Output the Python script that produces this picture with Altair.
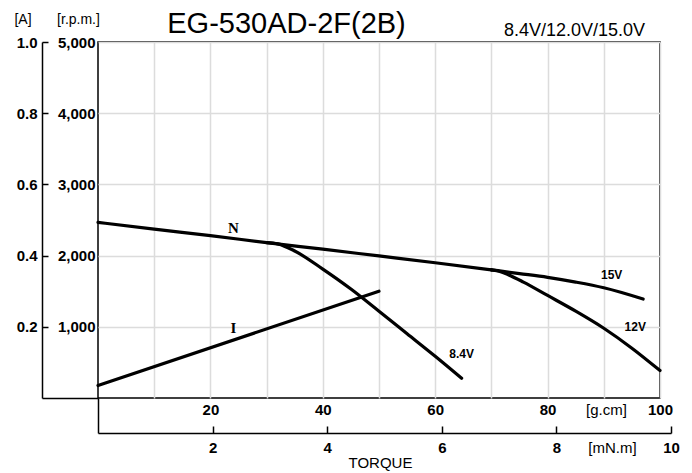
import altair as alt
import pandas as pd

# ---------------- data ----------------
# torque in g.cm, speed in r.p.m.
N_TORQUE = [0, 10, 20, 30, 40, 50, 60, 70]
N_RPM = [2467, 2372, 2280, 2183, 2090, 1995, 1900, 1800]

V84_TORQUE = [30, 32, 35, 40, 45, 50, 55, 60, 64.7]
V84_RPM = [2183, 2165, 2065, 1810, 1530, 1218, 902, 586, 277]

V12_TORQUE = [70, 71, 73, 75.7, 80, 85, 90, 95, 100]
V12_RPM = [1800, 1787, 1731, 1628, 1440, 1220, 980, 700, 385]

V15_TORQUE = [70, 75, 80, 85, 90, 97]
V15_RPM = [1800, 1748, 1695, 1628, 1548, 1390]

# current in A
I_TORQUE = [0, 50]
I_AMP = [0.035, 0.30]

SERIF_TEXT = ["N", "I"]
SERIF_TORQUE = [24.1, 24.1]
SERIF_RPM = [2383, 979]

VOLT_TEXT = ["8.4V", "15V", "12V"]
VOLT_TORQUE = [64.7, 91.4, 95.6]
VOLT_RPM = [618, 1728, 993]

GCM_TICKS = [10, 20, 30, 40, 50, 60, 70, 80, 90, 100]
RPM_TICKS = [1000, 2000, 3000, 4000, 5000]
AMP_TICKS = [0, 0.2, 0.4, 0.6, 0.8, 1.0]
MNM_TICKS = [0, 2, 4, 6, 8, 10]
GCM_PER_MNM = 10.197

# ---------------- tables ----------------
rows = []
for name, xs, ys in [("N", N_TORQUE, N_RPM), ("8.4V", V84_TORQUE, V84_RPM),
                     ("12V", V12_TORQUE, V12_RPM), ("15V", V15_TORQUE, V15_RPM)]:
    for x, y in zip(xs, ys):
        rows.append({"series": name, "torque": x, "rpm": y})
curves = pd.DataFrame(rows)
current = pd.DataFrame({"torque": I_TORQUE, "amp": I_AMP})
serif_df = pd.DataFrame({"text": SERIF_TEXT, "torque": SERIF_TORQUE, "rpm": SERIF_RPM})
volt_df = pd.DataFrame({"text": VOLT_TEXT, "torque": VOLT_TORQUE, "rpm": VOLT_RPM})

FONT = "Liberation Sans"
W, H = 562, 356
GRID = "#dcdcdc"

x_gcm = alt.Scale(domain=[0, 100], nice=False, zero=False)
y_rpm = alt.Scale(domain=[0, 5000], nice=False)

common_title = dict(titleFont=FONT, titleColor="black", titleFontWeight="normal",
                    titleAlign="center", titleBaseline="middle", titleAngle=0)
common_label = dict(labelFont=FONT, labelColor="black", labelFontWeight="bold",
                    labelFontSize=15, labelOverlap=False, labelFlush=False)

curve_layer = alt.Chart(curves).mark_line(
    color="black", strokeWidth=3.2, strokeCap="round", strokeJoin="round",
    interpolate="monotone"
).encode(
    x=alt.X("torque:Q", scale=x_gcm, axis=alt.Axis(
        orient="bottom", values=GCM_TICKS,
        labelExpr="datum.value % 20 == 0 ? datum.label : ''",
        grid=True, gridColor=GRID, gridWidth=1.5,
        ticks=False, tickSize=0, domain=False,
        labelPadding=11, labelBaseline="middle",
        title="[g.cm]", titleX=508, titleY=11, titleFontSize=15,
        **common_label, **common_title)),
    y=alt.Y("rpm:Q", scale=y_rpm, axis=alt.Axis(
        orient="left", values=RPM_TICKS, format=",d",
        grid=True, gridColor=GRID, gridWidth=1.5,
        ticks=False, tickSize=0, domain=False,
        labelPadding=3, labelBaseline="middle",
        title="[r.p.m.]", titleX=-20, titleY=-23, titleFontSize=14,
        **common_label, **common_title)),
    detail="series:N",
)

current_layer = alt.Chart(current).transform_calculate(
    mnm=f"datum.torque / {GCM_PER_MNM}"
).mark_line(color="black", strokeWidth=3.2, strokeCap="round").encode(
    x=alt.X("mnm:Q", scale=alt.Scale(domain=[0, 10], range=[0, 573], nice=False, zero=False),
            axis=alt.Axis(
                orient="top", offset=-391, values=MNM_TICKS,
                labelExpr="datum.value == 0 ? '' : datum.label",
                grid=False, domain=True, domainColor="black", domainWidth=1.5,
                ticks=True, tickColor="black", tickWidth=1.5,
                tickSize={"condition": {"test": "datum.value == 0", "value": 35}, "value": 7},
                labelPadding=-21, labelBaseline="middle",
                title="[mN.m]", titleX=514, titleY=14, titleFontSize=15,
                **common_label, **common_title)),
    y=alt.Y("amp:Q", scale=alt.Scale(domain=[0, 1], nice=False),
            axis=alt.Axis(
                orient="right", offset=-618, values=AMP_TICKS, format=".1f",
                labelExpr="datum.value == 0 ? '' : datum.label",
                grid=False, domain=True, domainColor="black", domainWidth=1.5,
                ticks=True, tickColor="black", tickWidth=1.5,
                tickSize={"condition": {"test": "datum.value == 0", "value": 56}, "value": 6},
                labelAlign="right", labelPadding=-11, labelBaseline="middle",
                title="[A]", titleX=-19.5, titleY=-23, titleFontSize=14,
                **common_label, **common_title)),
)

serif_layer = alt.Chart(serif_df).mark_text(
    font="Liberation Serif", fontWeight="bold", fontSize=15, color="black"
).encode(
    x=alt.X("torque:Q", scale=x_gcm, axis=alt.Axis(
        orient="bottom", labels=False, ticks=False, domain=False, grid=False,
        title="TORQUE", titleX=282, titleY=64, titleFontSize=15, **common_title)),
    y=alt.Y("rpm:Q", scale=y_rpm, axis=alt.Axis(
        orient="right", labels=False, ticks=False, domain=False, grid=False,
        title="EG-530AD-2F(2B)", titleX=-374, titleY=-19, titleFontSize=29,
        **common_title)),
    text="text:N",
)

volt_layer = alt.Chart(volt_df).mark_text(
    font=FONT, fontWeight="bold", fontSize=12, color="black"
).encode(
    x=alt.X("torque:Q", scale=x_gcm, axis=alt.Axis(
        orient="top", labels=False, ticks=False, domain=False, grid=False,
        title="8.4V/12.0V/15.0V", titleX=476, titleY=-12, titleFontSize=18,
        **common_title)),
    y=alt.Y("rpm:Q", scale=y_rpm, axis=None),
    text="text:N",
)

chart = alt.layer(curve_layer, current_layer, serif_layer, volt_layer).resolve_scale(
    x="independent", y="independent"
).properties(
    width=W, height=H,
    autosize=alt.AutoSizeParams(type="none"),
    padding={"left": 90, "top": 34, "right": 22, "bottom": 74},
    background="white",
).configure_view(stroke="black", strokeWidth=1.5)

chart.save("out.html", embed_options={"renderer": "svg", "actions": False})
